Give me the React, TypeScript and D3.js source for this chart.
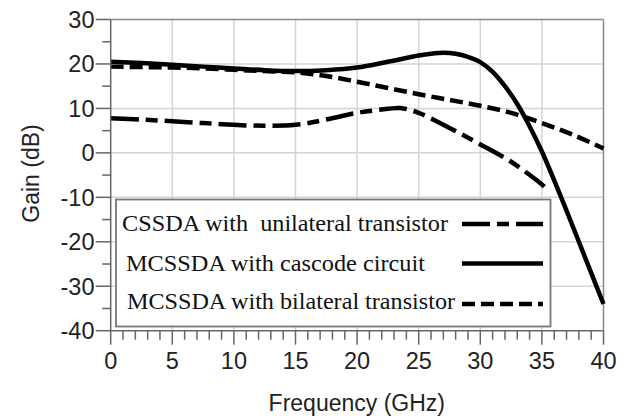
import React from "react";
import * as d3 from "d3";

const unilateralFreq = [0, 2.5, 5, 7.5, 10, 12.5, 15, 17.5, 20, 22.5, 23.5, 25, 27.5, 30, 32.5, 35, 35.2];
const unilateralGain = [7.8, 7.5, 7.1, 6.7, 6.3, 6.1, 6.3, 7.5, 9.0, 9.9, 10.1, 9.0, 5.6, 1.9, -2.0, -7.1, -7.6];

const cascodeFreq = [0, 2.5, 5, 7.5, 10, 12.5, 15, 17.5, 20, 22.5, 25, 26, 27, 28, 29, 30, 31, 32, 33, 34, 35, 36, 37, 38, 39, 40];
const cascodeGain = [20.5, 20.2, 19.8, 19.4, 19.0, 18.6, 18.4, 18.6, 19.2, 20.5, 21.9, 22.3, 22.5, 22.3, 21.6, 20.4, 18.2, 15.0, 11.0, 6.0, 0.3, -6.2, -13.0, -20.0, -27.0, -34.0];

const bilateralFreq = [0, 2.5, 5, 7.5, 10, 12.5, 15, 17.5, 20, 22.5, 25, 27.5, 30, 32.5, 35, 37.5, 40];
const bilateralGain = [19.4, 19.3, 19.2, 19.0, 18.7, 18.4, 18.1, 17.3, 16.0, 14.6, 13.2, 11.9, 10.6, 9.0, 6.7, 4.1, 1.0];

const xTicks = [0, 5, 10, 15, 20, 25, 30, 35, 40];
const yTicks = [30, 20, 10, 0, -10, -20, -30, -40];
const xMinor = d3.range(0, 41, 1);
const yMinor = d3.range(-40, 31, 5);

const legendLabels = [
  "CSSDA with  unilateral transistor",
  "MCSSDA with cascode circuit",
  "MCSSDA with bilateral transistor",
];

const W = 629;
const H = 419;
const L = 110.7, R = 603.5, T = 19.5, B = 330.7;

export default function App() {
  const x = d3.scaleLinear().domain([0, 40]).range([L, R]);
  const y = d3.scaleLinear().domain([-40, 30]).range([B, T]);
  const line = d3
    .line<[number, number]>()
    .x((d) => x(d[0]))
    .y((d) => y(d[1]))
    .curve(d3.curveCatmullRom.alpha(0.5));

  const series = [
    { f: unilateralFreq, g: unilateralGain, dash: "28,7,12,7" },
    { f: cascodeFreq, g: cascodeGain, dash: null },
    { f: bilateralFreq, g: bilateralGain, dash: "13,6" },
  ];

  const axisColor = "#666";
  const gridColor = "#d4d4d4";
  const sans = "'Liberation Sans', Arial, sans-serif";
  const serif = "'Liberation Serif', 'Times New Roman', serif";

  const legendRows = [
    { tx: 122, ty: 231, ly: 224, len: 326 },
    { tx: 126, ty: 271, ly: 263.5, len: 299 },
    { tx: 127, ty: 309, ly: 304, len: 328 },
  ];

  return (
    <svg width={W} height={H} style={{ position: "absolute", left: 0, top: 0, background: "#fff" }}>
      <rect x={0} y={0} width={W} height={H} fill="#fff" />
      {xTicks.slice(1, -1).map((t) => (
        <line key={"gx" + t} x1={x(t)} x2={x(t)} y1={T} y2={B} stroke={gridColor} strokeWidth={1.5} />
      ))}
      {yTicks.slice(1, -1).map((t) => (
        <line key={"gy" + t} x1={L} x2={R} y1={y(t)} y2={y(t)} stroke={gridColor} strokeWidth={1.5} />
      ))}
      <line x1={L} x2={R} y1={T} y2={T} stroke="#888" strokeWidth={1.5} />
      <line x1={R} x2={R} y1={T} y2={B} stroke="#888" strokeWidth={1.5} />

      {series.map((s, i) => (
        <path
          key={"s" + i}
          d={line(s.f.map((f, j) => [f, s.g[j]] as [number, number])) || ""}
          fill="none"
          stroke="#000"
          strokeWidth={4.5}
          strokeDasharray={s.dash || undefined}
          strokeLinejoin="round"
        />
      ))}

      <line x1={L} x2={L} y1={T} y2={B} stroke={axisColor} strokeWidth={1.5} />
      <line x1={L} x2={R} y1={B} y2={B} stroke={axisColor} strokeWidth={1.5} />
      {yMinor.map((t) => {
        const major = t % 10 === 0;
        return (
          <line key={"ty" + t} x1={L - (major ? 15 : 8.5)} x2={L} y1={y(t)} y2={y(t)} stroke={axisColor} strokeWidth={1.5} />
        );
      })}
      {xMinor.map((t) => {
        const major = t % 5 === 0;
        return (
          <line key={"tx" + t} x1={x(t)} x2={x(t)} y1={B} y2={B + (major ? 14 : 9)} stroke={axisColor} strokeWidth={1.5} />
        );
      })}
      {yTicks.map((t) => (
        <text key={"ly" + t} x={94.5} y={y(t) + 8.3} textAnchor="end" fontFamily={sans} fontSize={23.5} fill="#222">
          {t}
        </text>
      ))}
      {xTicks.map((t) => (
        <text key={"lx" + t} x={x(t)} y={369} textAnchor="middle" fontFamily={sans} fontSize={23.5} fill="#222">
          {t}
        </text>
      ))}
      <text x={356.8} y={411} textAnchor="middle" fontFamily={sans} fontSize={23} fill="#222">
        Frequency (GHz)
      </text>
      <text
        transform={`translate(39,173.5) rotate(-90)`}
        textAnchor="middle"
        fontFamily={sans}
        fontSize={23}
        fill="#222"
      >
        Gain (dB)
      </text>

      <rect x={116} y={199.5} width={434.5} height={127} fill="#fff" stroke="#777" strokeWidth={1.8} />
      {legendRows.map((r, i) => (
        <g key={"lg" + i}>
          <text
            x={r.tx}
            y={r.ty}
            fontFamily={serif}
            fontSize={24}
            fill="#111"
            textLength={r.len}
            lengthAdjust="spacingAndGlyphs"
            style={{ whiteSpace: "pre" }}
          >
            {legendLabels[i]}
          </text>
          <line
            x1={462}
            x2={543}
            y1={r.ly}
            y2={r.ly}
            stroke="#000"
            strokeWidth={4.5}
            strokeDasharray={series[i].dash || undefined}
          />
        </g>
      ))}
    </svg>
  );
}
